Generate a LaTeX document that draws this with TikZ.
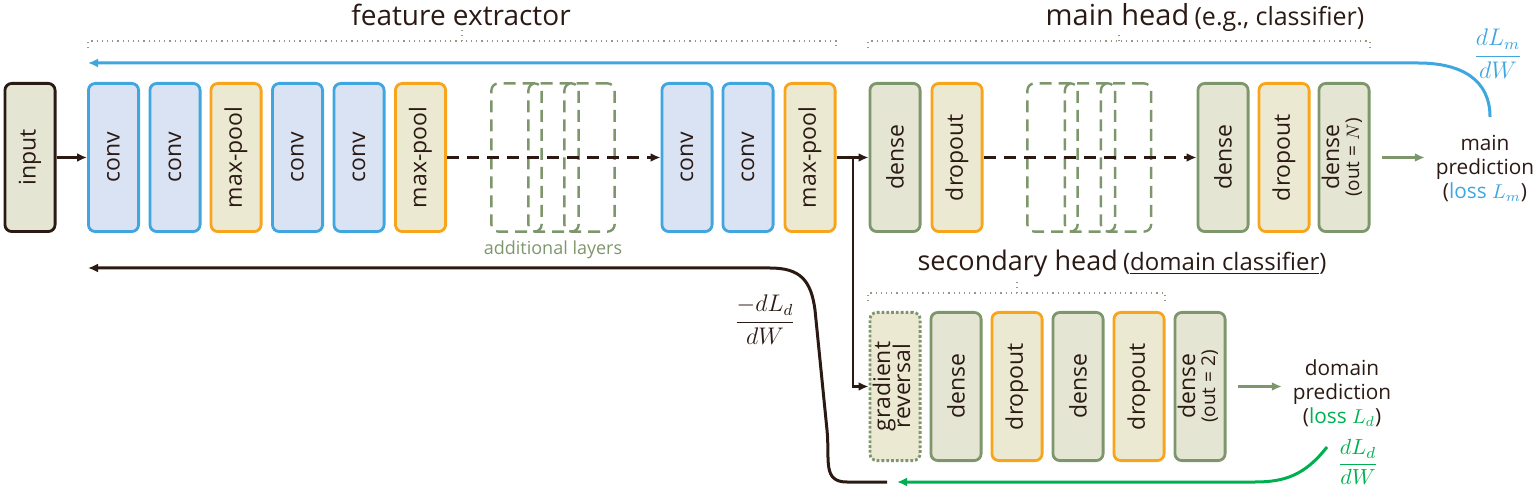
\documentclass[tikz,border=0pt]{standalone}
\usepackage{amsmath}
\usepackage{fontspec}
\setmainfont{Open Sans}
\usepackage{tikz}
\usetikzlibrary{arrows.meta}

\definecolor{ink}{HTML}{2B1A14}
\definecolor{convline}{HTML}{41A6E0}
\definecolor{convfill}{HTML}{DAE3F3}
\definecolor{poolline}{HTML}{F9A51B}
\definecolor{poolfill}{HTML}{ECE9D3}
\definecolor{denseline}{HTML}{7E966C}
\definecolor{densefill}{HTML}{E5E5D3}
\definecolor{gradblue}{HTML}{3FA6E0}
\definecolor{gradgreen}{HTML}{00B050}
\definecolor{bracecol}{HTML}{8F9C82}

\newcommand{\vlab}[1]{\rotatebox{90}{#1}}
\newcommand{\vlabtwo}[2]{\rotatebox{90}{\begin{tabular}{@{}c@{}}#1\\[-3pt]#2\end{tabular}}}
\newcommand{\outsize}{\rmfamily\fontsize{9.5}{10}\selectfont}

\begin{document}
\begin{tikzpicture}
            [x=0.5pt,y=-0.5pt,
            layer/.style={rounded corners=3.5pt,minimum width=25.1pt,minimum height=74.1pt,
                line width=1.4pt,inner sep=0pt,text=ink,font=\fontsize{11.5}{13}\selectfont},
            convbox/.style={layer,draw=convline,fill=convfill},
            poolbox/.style={layer,draw=poolline,fill=poolfill},
            densebox/.style={layer,draw=denseline,fill=densefill},
            inbox/.style={layer,draw=ink,fill=densefill},
            revbox/.style={layer,draw=denseline,fill=poolfill,densely dotted},
            ghostbox/.style={layer,draw=denseline,dash pattern=on 6pt off 3.5pt,line width=1.2pt},
            flow/.style={ink,line width=1.3pt,-{Latex[length=5pt,width=4.5pt]}},
            skipflow/.style={flow,dash pattern=on 6pt off 4pt},
            predarrow/.style={denseline,line width=1.3pt,-{Latex[length=5pt,width=4.5pt]},shorten <=5.5pt,shorten >=2pt},
            gradline/.style={line width=1.5pt,-{Latex[length=5pt,width=4.5pt]}},
            groupline/.style={bracecol,dotted,line width=0.6pt},
            predlabel/.style={align=center,text=ink,font=\fontsize{10.4}{12}\selectfont}]
            \useasboundingbox (0,0) rectangle (1535,491);
            % feature extractor
            \node[inbox] (input) at (30,157.5) {\vlab{input}};
            \node[convbox] (conv1) at (113.5,157.5) {\vlab{conv}};
            \node[convbox] (conv2) at (175,157.5) {\vlab{conv}};
            \node[poolbox] (pool1) at (236,157.5) {\vlab{max-pool}};
            \node[convbox] (conv3) at (297.5,157.5) {\vlab{conv}};
            \node[convbox] (conv4) at (359,157.5) {\vlab{conv}};
            \node[poolbox] (pool2) at (420.5,157.5) {\vlab{max-pool}};
            \node[ghostbox] (extra1) at (516.5,157.5) {};
            \node[ghostbox] (extra2) at (553.5,157.5) {};
            \node[ghostbox] (extra3) at (589.5,157.5) {};
            \node[convbox] (conv5) at (687,157.5) {\vlab{conv}};
            \node[convbox] (conv6) at (748,157.5) {\vlab{conv}};
            \node[poolbox] (pool3) at (810,157.5) {\vlab{max-pool}};
            % main head
            \node[densebox] (dense1) at (895,157.5) {\vlab{dense}};
            \node[poolbox] (drop1) at (957,157.5) {\vlab{dropout}};
            \node[ghostbox] (extra4) at (1052.5,157.5) {};
            \node[ghostbox] (extra5) at (1090,157.5) {};
            \node[ghostbox] (extra6) at (1126,157.5) {};
            \node[densebox] (dense2) at (1223,157.5) {\vlab{dense}};
            \node[poolbox] (drop2) at (1284,157.5) {\vlab{dropout}};
            \node[densebox] (dense3) at (1344,157.5) {\vlabtwo{dense}{\outsize (out = $N$)}};
            % secondary head
            \node[revbox] (grev) at (895,386.5) {\vlabtwo{gradient}{reversal}};
            \node[densebox] (dense4) at (956,386.5) {\vlab{dense}};
            \node[poolbox] (drop3) at (1017,386.5) {\vlab{dropout}};
            \node[densebox] (dense5) at (1078,386.5) {\vlab{dense}};
            \node[poolbox] (drop4) at (1139,386.5) {\vlab{dropout}};
            \node[densebox] (dense6) at (1200,386.5) {\vlabtwo{dense}{\outsize (out = 2)}};
            % titles
            \node[text=ink,font=\fontsize{14}{16}\selectfont] (fetitle) at (461,15) {feature extractor};
            \node[text=ink] (mhtitle) at (1205,17) {{\fontsize{14.5}{16}\selectfont main head} {\fontsize{12.5}{14}\selectfont (e.g., classifier)}};
            \node[text=ink] (shtitle) at (1122,263) {{\fontsize{13.5}{16}\selectfont secondary head} {\fontsize{12}{14}\selectfont (\underline{domain classifier})}};
            \node[text=denseline,font=\fontsize{9}{11}\selectfont] (extranote) at (553,250) {additional layers};
            \draw[groupline] (88,48) -- (88,41) -- (836,41) -- (836,48);
            \draw[groupline] (462,41) -- (462,30);
            \draw[groupline] (868,48) -- (868,41) -- (1370,41) -- (1370,48);
            \draw[groupline] (1119,41) -- (1119,32);
            \draw[groupline] (868,301) -- (868,293) -- (1165,293) -- (1165,301);
            \draw[groupline] (1017,293) -- (1017,282);
            % outputs
            \node[predlabel] (mainpred) at (1485,169) {main\\prediction\\(\textcolor{gradblue}{loss $L_m$})};
            \node[predlabel] (dompred) at (1342,393) {domain\\prediction\\(\textcolor{gradgreen}{loss $L_d$})};
            \node[text=gradblue,font=\fontsize{11.5}{13}\selectfont] (dlm) at (1498,54) {$\dfrac{dL_m}{dW}$};
            \node[text=ink,font=\fontsize{11.5}{13}\selectfont] (dlrev) at (765,320) {$\dfrac{-dL_d}{dW}$};
            \node[text=gradgreen,font=\fontsize{11}{13}\selectfont] (dld) at (1358,462) {$\dfrac{dL_d}{dW}$};
            % forward pass
            \coordinate (split) at (853,157.5);
            \draw[flow] (input) -- (conv1);
            \draw[skipflow] (pool2) -- (conv5);
            \draw[flow] (pool3) -- (dense1);
            \draw[flow] (split) |- (grev);
            \draw[skipflow] (drop1) -- (dense2);
            \draw[predarrow] (dense3) -- (dense3 -| mainpred.west);
            \draw[predarrow] (dense6) -- (dense6 -| dompred.west);
            % gradients
            \coordinate (mstart) at (1490,117);
            \coordinate (mend) at (88,63);
            \coordinate (dstart) at (1327,447);
            \coordinate (dend) at (897,482);
            \coordinate (rstart) at (887,482);
            \coordinate (rend) at (88,268);
            \draw[gradline,gradblue] (mstart) .. controls (1490,80) and (1462,63) .. (1418,63) -- (mend);
            \draw[gradline,gradgreen] (dstart) .. controls (1305,475) and (1285,482) .. (1255,482) -- (dend);
            \draw[gradline,ink] (rstart) -- (847,482) .. controls (822,482) and (830,460) .. (827,430) -- (815,310) .. controls (811,280) and (800,268) .. (770,268) -- (rend);
        \end{tikzpicture}
\end{document}
